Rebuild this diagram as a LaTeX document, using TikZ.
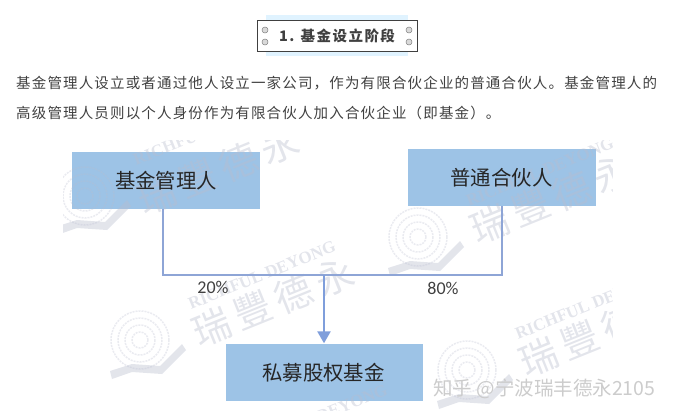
\documentclass[tikz,border=0pt]{standalone}
\usepackage{xcolor}
\usepackage{fontspec}
\setmainfont{Noto Sans CJK SC}
\newfontfamily\bodyfont[LetterSpace=8]{Noto Sans CJK SC}
\newfontfamily\titlefont[LetterSpace=10]{Noto Sans CJK SC}
\newfontfamily\pctfont{Carlito}
\newfontfamily\markfont{Liberation Serif}
\usetikzlibrary{positioning,calc,arrows.meta}
\definecolor{boxblue}{HTML}{9DC3E6}
\definecolor{linkblue}{HTML}{8EA5D6}
\definecolor{tipblue}{HTML}{7F9EDB}
\definecolor{markgrey}{HTML}{B9BDCE}
\definecolor{inkgrey}{HTML}{404040}
\tikzset{
    partybox/.style={fill=boxblue, inner sep=0pt, minimum width=188pt, minimum height=57pt},
    partytext/.style={inner sep=0pt, text=black!85, font=\fontsize{20.4pt}{24pt}\selectfont},
    bodyline/.style={anchor=west, inner sep=0pt, text=inkgrey, font=\fontsize{14.5pt}{17pt}\bodyfont},
    link/.style={draw=linkblue, line width=2.4pt},
    pct/.style={inner sep=0pt, text=black!75, font=\fontsize{18pt}{20pt}\pctfont},
    marktext/.style={rotate=22, text=markgrey, text opacity=0.4}
}
\begin{document}
\begin{tikzpicture}[x=1pt, y=-1pt]
    \useasboundingbox (0,0) rectangle (674,418);

    % Heading
    \fill [blue!40!cyan!12] (266,15) rectangle (408,56);
    \node [draw=inkgrey, fill=white, line width=0.8pt, minimum width=160pt, minimum height=31pt, inner sep=0pt, text=inkgrey, font=\fontsize{14.5pt}{16pt}\titlefont\bfseries] (heading) at (337,36) {1. 基金设立阶段};
    \foreach \x in {265,409} \foreach \y in {30,42} \filldraw [draw=gray, fill=gray!30, line width=0.5pt] (\x,\y) circle (3);

    % Paragraph
    \node [bodyline] (lineone) at (16,83) {基金管理人设立或者通过他人设立一家公司，作为有限合伙企业的普通合伙人。基金管理人的};
    \node [bodyline] (linetwo) at (16,113) {高级管理人员则以个人身份作为有限合伙人加入合伙企业（即基金）。};

    % Parties
    \node [partybox] (manager) at (166,180) {};
    \node [partybox] (partner) at (502,177.5) {};
    \node [partybox, minimum width=197pt] (fund) at (324.5,372) {};

    % Watermark
    \begin{scope}
        \clip (63,140) rectangle (612,410);
        \foreach \x/\y/\dy in {85/196/12, 418/237/0, 140/340/0, 467/370/0} {
            \begin{scope}[shift={(\x,\y)}]
                \foreach \r in {8,15,22,29} \draw [markgrey, opacity=0.3, line width=1.5pt, dash pattern=on 2pt off 1pt] (0,0) circle (\r);
                \fill [markgrey, opacity=0.4] (-30,31) -- (-8,24) -- (20,26) -- (42,4) -- (46,10) -- (22,34) -- (-8,32) -- (-28,39) -- cycle;
                \node [marktext, font=\fontsize{38pt}{40pt}\selectfont] (markcn\x) at (133,-38+\dy) {瑞\,豐\,德\,永};
                \node [marktext, font=\fontsize{17pt}{19pt}\markfont\bfseries] (marken\x) at (122,-65) {RICHFUL DEYONG};
            \end{scope}
        }
        \node [marktext, font=\fontsize{17pt}{19pt}\markfont\bfseries] (markfoot) at (352,403) {DEYONG};
    \end{scope}

    % Party labels
    \node [partytext] (managertext) at (166,181) {基金管理人};
    \node [partytext] (partnertext) at (501.5,178) {普通合伙人};
    \node [partytext] (fundtext) at (323.5,373) {私募股权基金};

    % Links
    \coordinate (junction) at (324,275);
    \draw [link] (manager.south -| 163,0) |- (junction);
    \draw [link] (partner.south) |- (junction);
    \draw [link, tipblue, -{Triangle[length=12pt, width=13pt]}] (junction) -- (fund.north -| junction);
    \node [pct] (shareone) at (213,287) {20\%};
    \node [pct] (sharetwo) at (443,288) {80\%};

    % Site mark
    \node [anchor=west, inner sep=0pt, text=black!20, font=\fontsize{19.5pt}{22pt}\selectfont] (sitemark) at (433,389) {知乎 @宁波瑞丰德永2105};
\end{tikzpicture}
\end{document}
